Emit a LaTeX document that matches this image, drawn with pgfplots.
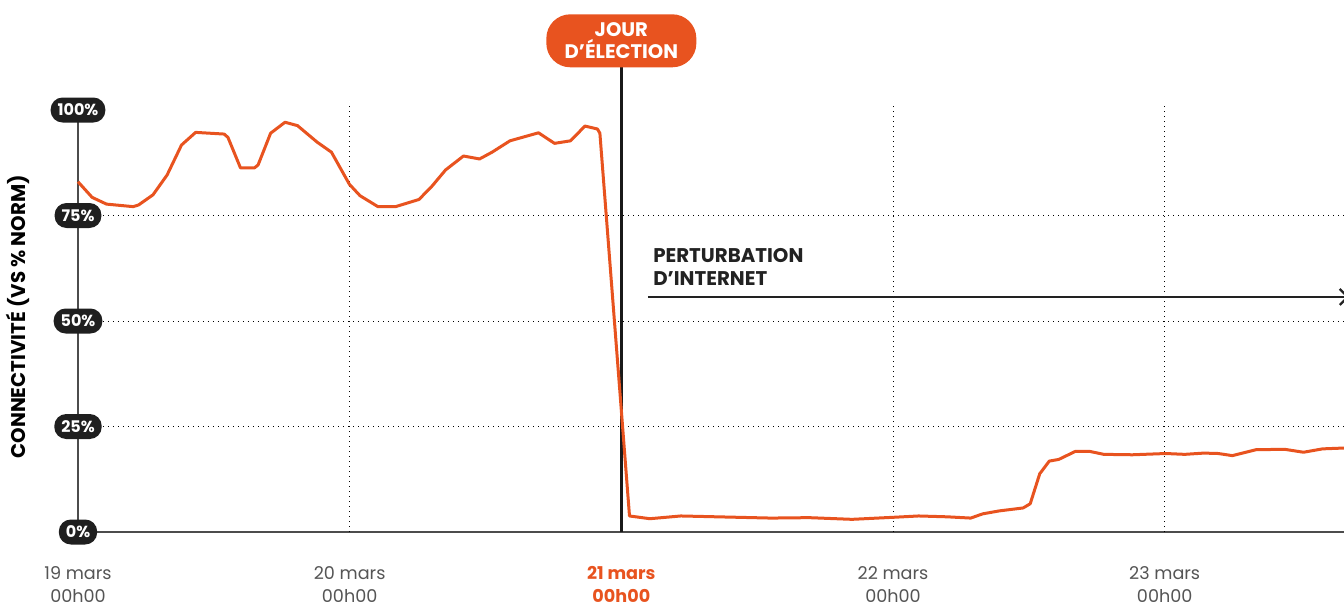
\documentclass[border=0pt]{standalone}
\usepackage{pgfplots}
\pgfplotsset{compat=1.18}
\usepackage{fontspec}
\setmainfont{Poppins}
\usetikzlibrary{arrows.meta}
\definecolor{orng}{HTML}{E8531F}
\definecolor{tickgray}{HTML}{555555}
\definecolor{ink}{HTML}{222222}
\pgfplotstableread{
x y
0 83.0
0.052 79.3
0.105 77.7
0.203 77.1
0.223 77.5
0.276 79.9
0.328 84.6
0.381 91.7
0.433 94.7
0.538 94.3
0.552 93.5
0.598 86.3
0.650 86.3
0.663 87.0
0.709 94.5
0.762 97.1
0.808 96.3
0.880 92.4
0.933 90.0
0.999 82.4
1.038 79.7
1.104 77.1
1.169 77.1
1.255 78.8
1.301 81.8
1.353 85.8
1.419 89.1
1.478 88.4
1.524 90.0
1.590 92.7
1.695 94.6
1.754 92.1
1.813 92.7
1.866 96.2
1.912 95.5
1.921 94.5
2.030 3.8
2.105 3.15
2.219 3.8
2.551 3.3
2.691 3.4
2.849 3.0
3.006 3.5
3.094 3.8
3.199 3.6
3.286 3.3
3.330 4.3
3.391 5.0
3.479 5.7
3.505 6.7
3.540 13.8
3.575 16.8
3.610 17.2
3.671 19.1
3.724 19.1
3.776 18.4
3.881 18.3
4.004 18.6
4.074 18.4
4.144 18.7
4.197 18.6
4.249 18.1
4.336 19.5
4.441 19.6
4.511 18.9
4.581 19.7
4.66 19.9
}\conn
\begin{document}
\begin{tikzpicture}
\useasboundingbox (-39pt,-37pt) rectangle (633pt,266pt);
\begin{axis}[
  at={(0,0)}, anchor=origin,
  scale only axis, width=633pt, height=213pt,
  xmin=0, xmax=4.66, ymin=0, ymax=100.95,
  clip=false,
  axis x line=bottom, axis y line=left,
  axis line style={draw=black!70, line width=0.6pt, -},
  ytick=\empty,
  xtick={0,1,2,3,4},
  major tick length=0pt,
  xticklabels={
    {19 mars\\00h00},
    {20 mars\\00h00},
    {\textbf{\color{orng}21 mars}\\\textbf{\color{orng}00h00}},
    {22 mars\\00h00},
    {23 mars\\00h00}},
  xticklabel style={align=center, font=\fontsize{8.8}{11.5}\selectfont, text=tickgray, yshift=-13.5pt},
]
% grid
\foreach \v in {25,50,75} {
  \edef\tmp{\noexpand\draw[black, line width=0.5pt, dotted] (axis cs:0,\v) -- (axis cs:4.66,\v);}\tmp
}
\foreach \v in {1,3,4} {
  \edef\tmp{\noexpand\draw[black, line width=0.5pt, dotted] (axis cs:\v,0) -- (axis cs:\v,100.95);}\tmp
}
% election line
\draw[black!90, line width=1.2pt] (axis cs:2,0) -- (axis cs:2,112);
% data
\addplot[orng, line width=1.5pt, line join=round, no markers] table[x=x,y=y] {\conn};
% y pills
\foreach \v/\t in {0/0\%,25/25\%,50/50\%,75/75\%,100/100\%} {
  \edef\tmp{\noexpand\node[fill=black!88, text=white, rounded corners=6pt, minimum height=12.5pt, inner xsep=3.5pt, inner ysep=0pt, font=\noexpand\bfseries\noexpand\fontsize{8}{9}\noexpand\selectfont] at (axis cs:0,\v) {\t};}\tmp
}
% badge
\node[fill=orng, text=white, rounded corners=12pt, minimum width=75pt, minimum height=26.5pt, inner sep=1pt, align=center, font=\bfseries\fontsize{9.8}{11}\selectfont] at (axis cs:2,116.4) {JOUR\\D’ÉLECTION};
% annotation
\node[anchor=base west, align=left, text=ink, inner sep=0pt, font=\bfseries\fontsize{9.9}{11.5}\selectfont] at (axis cs:2.116,58.5) {PERTURBATION\\D’INTERNET};
\draw[ink, line width=1.2pt, -{Straight Barb[length=4pt,width=8pt]}] (axis cs:2.098,55.7) -- (axis cs:4.68,55.7);
% y label
\node[rotate=90, text=black, font=\bfseries\fontsize{9.9}{11}\selectfont] at (axis cs:-0.221,51) {CONNECTIVITÉ (VS \% NORM)};
\end{axis}
\end{tikzpicture}
\end{document}
